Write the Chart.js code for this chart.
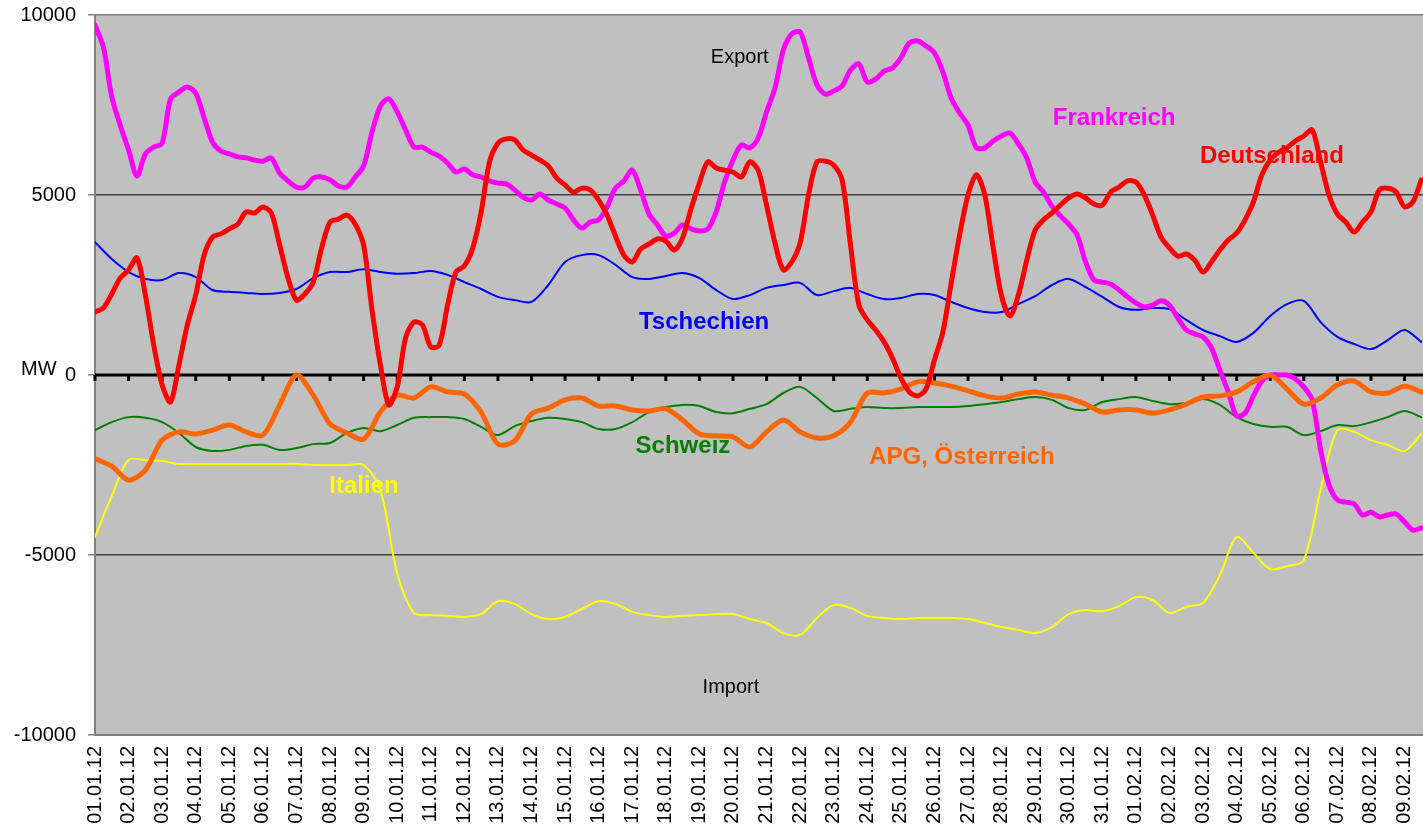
<!DOCTYPE html>
<html>
<head>
<meta charset="utf-8">
<title>Lastfluss Jan/Feb 2012</title>
<script src="https://cdn.jsdelivr.net/npm/chart.js@4.4.1/dist/chart.umd.min.js"></script>
<style>
  body { margin: 0; background: #fff; }
  #wrap { width: 1423px; height: 833px; }
</style>
</head>
<body>
<div id="wrap"><canvas id="lastChart"></canvas></div>
<script>
// Tage (x-Achse), ein Label je Tag
const tage = ['01.01.12','02.01.12','03.01.12','04.01.12','05.01.12','06.01.12','07.01.12','08.01.12',
  '09.01.12','10.01.12','11.01.12','12.01.12','13.01.12','14.01.12','15.01.12','16.01.12','17.01.12',
  '18.01.12','19.01.12','20.01.12','21.01.12','22.01.12','23.01.12','24.01.12','25.01.12','26.01.12',
  '27.01.12','28.01.12','29.01.12','30.01.12','31.01.12','01.02.12','02.02.12','03.02.12','04.02.12',
  '05.02.12','06.02.12','07.02.12','08.02.12','09.02.12'];
const yTicks = [-10000, -5000, 0, 5000, 10000];

// MW, alle 6 Stunden (0.25 Tag)
const deutschland = [1750,1860,2250,2690, 2920,3250,2220,830, -280,-750,280,1390, 2220,3330,3830,3920,
  4060,4190,4530,4500, 4670,4500,3610,2690, 2080,2250,2580,3530, 4250,4330,4440,4190,
  3610,1810,280,-830, -330,1030,1470,1390, 780,830,1940,2860, 3030,3530,4530,5920,
  6440,6560,6530,6250, 6110,5970,5810,5470, 5280,5080,5190,5140, 4860,4440,3860,3330,
  3140,3500,3640,3780, 3720,3470,3810,4610, 5330,5920,5750,5690, 5640,5500,5920,5690,
  4720,3670,2920,3140, 3670,5000,5920,5940, 5830,5420,3610,1940, 1530,1250,920,470,
  -80,-470,-580,-390, 420,1190,2560,3890, 5000,5560,5000,3530, 2190,1640,2220,3190,
  4030,4310,4500,4720, 4920,5030,4920,4750, 4720,5080,5220,5390, 5360,5000,4440,3830,
  3530,3300,3360,3190, 2860,3140,3470,3750, 3940,4310,4810,5560, 5970,6190,6310,6500,
  6640,6810,5920,5000, 4470,4250,3970,4250, 4530,5140,5190,5080, 4670,4810,5420];
const frankreich = [9720,9110,7720,6940, 6250,5530,6140,6330, 6440,7670,7860,8000, 7830,7140,6470,6220,
  6140,6060,6030,5970, 5940,6030,5610,5390, 5220,5220,5470,5500, 5420,5250,5220,5500,
  5810,6750,7470,7670, 7310,6810,6330,6330, 6190,6080,5890,5640, 5720,5560,5500,5390,
  5330,5310,5140,4940, 4860,5030,4860,4750, 4640,4310,4080,4250, 4310,4670,5190,5390,
  5690,5140,4470,4170, 3860,3940,4170,4060, 4000,4060,4530,5360, 5970,6390,6310,6580,
  7310,7970,9030,9470, 9530,8810,8060,7800, 7890,8030,8470,8640, 8140,8220,8440,8530,
  8810,9220,9280,9140, 8950,8420,7690,7280, 6940,6310,6310,6500, 6640,6720,6420,6030,
  5360,5080,4690,4420, 4190,3890,3140,2640, 2580,2530,2360,2170, 2000,1890,1940,2060,
  1940,1580,1250,1140, 1060,750,140,-470, -1140,-1060,-580,-170, 0,0,0,-110,
  -330,-690,-2080,-3060, -3470,-3530,-3580,-3890, -3810,-3940,-3890,-3860, -4080,-4310,-4250];

// MW, alle 12 Stunden (0.5 Tag)
const tschechien = [3690,3220,2860,2670,2640,2830,2720,2360,2310,2280,
  2250,2280,2390,2690,2860,2860,2940,2860,2810,2830,
  2890,2780,2580,2390,2170,2080,2030,2500,3140,3330,
  3330,3060,2720,2670,2750,2830,2690,2360,2110,2220,
  2420,2500,2560,2220,2330,2420,2250,2110,2140,2250,
  2220,2030,1860,1750,1750,1970,2190,2500,2670,2440,
  2170,1890,1810,1860,1830,1530,1250,1080,920,1170,
  1640,1970,2060,1470,1060,860,720,970,1250,920];
const schweiz = [-1530,-1310,-1170,-1190,-1310,-1610,-2000,-2110,-2080,-1970,
  -1940,-2080,-2030,-1920,-1890,-1610,-1470,-1560,-1390,-1190,
  -1170,-1170,-1220,-1440,-1670,-1420,-1280,-1190,-1220,-1310,
  -1500,-1500,-1310,-1030,-890,-830,-860,-1030,-1060,-940,
  -810,-500,-330,-640,-1000,-940,-890,-920,-920,-890,
  -890,-890,-860,-810,-750,-670,-610,-690,-920,-970,
  -750,-670,-610,-720,-810,-780,-670,-830,-1170,-1360,
  -1440,-1440,-1670,-1560,-1390,-1420,-1310,-1170,-1000,-1170];
const apg = [-2330,-2530,-2920,-2640,-1810,-1580,-1640,-1530,-1390,-1580,
  -1670,-830,0,-560,-1360,-1610,-1780,-1030,-560,-640,
  -330,-470,-530,-1030,-1920,-1830,-1080,-920,-690,-640,
  -860,-860,-970,-1000,-940,-1250,-1640,-1690,-1720,-2000,
  -1580,-1250,-1580,-1750,-1690,-1310,-500,-500,-390,-190,
  -220,-310,-440,-580,-640,-530,-470,-560,-640,-810,
  -1030,-970,-970,-1060,-970,-810,-610,-580,-470,-190,
  0,-390,-810,-640,-280,-170,-470,-500,-310,-470];
const italien = [-4500,-3360,-2360,-2360,-2390,-2470,-2470,-2470,-2470,-2470,
  -2470,-2470,-2470,-2500,-2500,-2500,-2500,-3190,-5500,-6610,
  -6670,-6690,-6720,-6640,-6280,-6360,-6640,-6780,-6720,-6500,
  -6280,-6360,-6580,-6670,-6720,-6690,-6670,-6640,-6640,-6780,
  -6890,-7170,-7220,-6750,-6390,-6470,-6690,-6750,-6780,-6750,
  -6750,-6750,-6780,-6890,-7000,-7080,-7170,-7000,-6640,-6530,
  -6560,-6420,-6170,-6250,-6610,-6440,-6330,-5560,-4500,-4940,
  -5390,-5310,-5140,-3190,-1530,-1580,-1810,-1940,-2110,-1640];

// Beschriftungen im Diagramm (Tag, MW)
const textInhalt = ['Export', 'Import', 'Frankreich', 'Deutschland', 'Tschechien', 'Schweiz', 'APG, Österreich', 'Italien'];
const textFarbe  = ['#000000', '#000000', '#ff00ff', '#ff0000', '#0000ff', '#008000', '#ff6600', '#ffff00'];
const textFett   = [false, false, true, true, true, true, true, true];
const textTag    = [19.2, 18.94, 30.35, 35.05, 18.14, 17.51, 25.82, 8.01];
const textWert   = [8810, -8690, 7140, 6060, 1470, -1970, -2280, -3080];

const schrift = '"Liberation Sans", Arial, sans-serif';
Chart.defaults.font.family = schrift;
Chart.defaults.color = '#000';

function punkte(werte, schritt) {
  return werte.map((v, i) => ({ x: i * schritt, y: v }));
}

const hintergrund = {
  id: 'hintergrund',
  beforeDraw(chart) {
    const { ctx, chartArea: a } = chart;
    ctx.save();
    ctx.fillStyle = '#c0c0c0';
    ctx.fillRect(a.left, a.top, a.right - a.left, a.bottom - a.top);
    ctx.restore();
  }
};

const nullLinie = {
  id: 'nullLinie',
  beforeDatasetsDraw(chart) {
    const { ctx, chartArea: a, scales: { x, y } } = chart;
    const y0 = y.getPixelForValue(0);
    ctx.save();
    ctx.strokeStyle = '#000';
    ctx.lineWidth = 3;
    ctx.beginPath();
    ctx.moveTo(a.left, y0);
    ctx.lineTo(a.right, y0);
    ctx.stroke();
    ctx.fillStyle = '#000';
    tage.forEach((t, i) => {
      const px = x.getPixelForValue(i);
      ctx.fillRect(px - 1.5, y0, 3, 6);
    });
    // Texte
    ctx.textAlign = 'center';
    ctx.textBaseline = 'middle';
    textInhalt.forEach((t, i) => {
      ctx.font = (textFett[i] ? 'bold 24px ' : '20px ') + schrift;
      ctx.fillStyle = textFarbe[i];
      ctx.fillText(t, x.getPixelForValue(textTag[i]), y.getPixelForValue(textWert[i]));
    });
    ctx.restore();
    // Einheit links
    ctx.save();
    ctx.font = '20px ' + schrift;
    ctx.fillStyle = '#000';
    ctx.textAlign = 'left';
    ctx.textBaseline = 'middle';
    ctx.fillText('MW', 21, y0 - 6);
    ctx.restore();
  }
};

function linie(label, werte, schritt, farbe, breite) {
  return {
    label: label,
    data: punkte(werte, schritt),
    borderColor: farbe,
    backgroundColor: farbe,
    borderWidth: breite,
    pointRadius: 0,
    tension: 0.3,
    borderJoinStyle: 'round',
    borderCapStyle: 'round',
    fill: false
  };
}

new Chart(document.getElementById('lastChart'), {
  type: 'line',
  data: {
    datasets: [
      linie('Deutschland', deutschland, 0.25, '#ff0000', 5),
      linie('APG, Österreich', apg, 0.5, '#ff6600', 5),
      linie('Frankreich', frankreich, 0.25, '#ff00ff', 5),
      linie('Tschechien', tschechien, 0.5, '#0000ff', 2),
      linie('Schweiz', schweiz, 0.5, '#008000', 2),
      linie('Italien', italien, 0.5, '#ffff00', 2)
    ]
  },
  options: {
    responsive: true,
    maintainAspectRatio: false,
    animation: false,
    layout: { padding: { top: 15, right: 0, bottom: 0, left: 0 } },
    plugins: {
      legend: { display: false },
      tooltip: { enabled: false }
    },
    scales: {
      x: {
        type: 'linear',
        min: 0,
        max: 39.55,
        afterBuildTicks(scale) {
          scale.ticks = tage.map((t, i) => ({ value: i }));
        },
        afterFit(scale) {
          scale.height = 98;
          scale.paddingLeft = 0;
          scale.paddingRight = 0;
        },
        grid: { display: false, drawTicks: false },
        border: { display: true, color: '#808080', width: 2 },
        ticks: {
          autoSkip: false,
          minRotation: 90,
          maxRotation: 90,
          padding: 11,
          font: { size: 20 },
          color: '#000',
          callback: (v) => tage[v]
        }
      },
      y: {
        min: -10000,
        max: 10000,
        afterBuildTicks(scale) {
          scale.ticks = yTicks.map(v => ({ value: v }));
        },
        afterFit(scale) {
          scale.width = 95;
          scale.paddingTop = 0;
          scale.paddingBottom = 0;
        },
        grid: {
          color: (c) => {
            const v = c.tick ? c.tick.value : null;
            if (v === 0) return 'rgba(0,0,0,0)';
            if (v === 5000 || v === -5000) return '#404040';
            return '#808080';
          },
          lineWidth: 1.5,
          tickColor: '#808080',
          tickLength: 7,
          tickWidth: 1.5
        },
        border: { display: true, color: '#808080', width: 2 },
        ticks: {
          padding: 12,
          font: { size: 20 },
          color: '#000',
          callback: (v) => String(v)
        }
      }
    }
  },
  plugins: [hintergrund, nullLinie]
});
</script>
</body>
</html>
